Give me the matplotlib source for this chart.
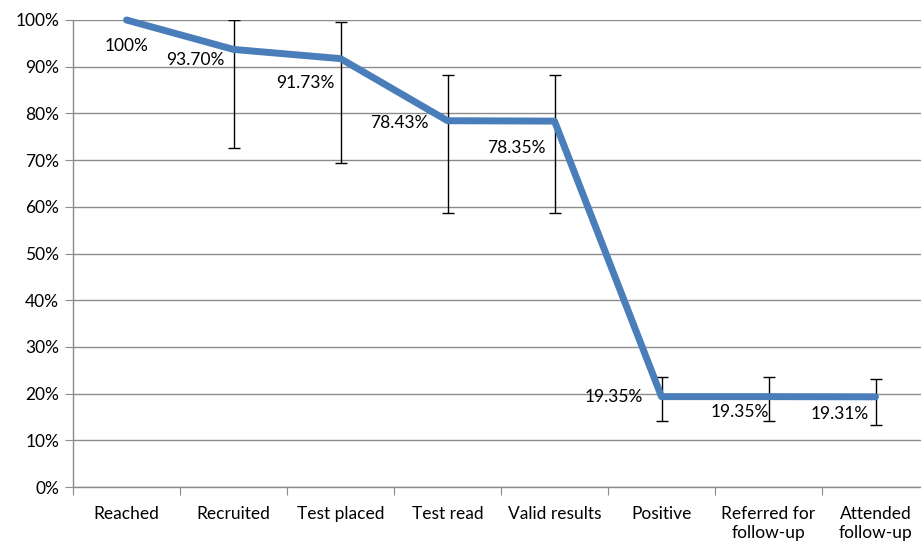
import matplotlib
matplotlib.use("Agg")
import matplotlib.pyplot as plt
import numpy as np

categories = ["Reached", "Recruited", "Test placed", "Test read", "Valid results",
              "Positive", "Referred for\nfollow-up", "Attended\nfollow-up"]
values = [100.0, 93.70, 91.73, 78.43, 78.35, 19.35, 19.35, 19.31]
labels = ["100%", "93.70%", "91.73%", "78.43%", "78.35%", "19.35%", "19.35%", "19.31%"]
err_low = [100.0, 72.6, 69.4, 58.7, 58.7, 14.1, 14.1, 13.3]
err_high = [100.0, 100.0, 99.6, 88.2, 88.2, 23.6, 23.6, 23.1]
# label offsets in pixels (dx, dy)
label_offsets = [(0, -26), (-38, -11), (-35, -24), (-48, -2), (-38, -27), (-48, 0), (-29, -15), (-36, -17)]

plt.rcParams['font.family'] = ['Lato', 'DejaVu Sans']
FS = 12.5

fig = plt.figure(figsize=(9.21, 5.51), dpi=100)
ax = fig.add_axes([73/921, 64/551, (929-73)/921, 467/551])

x = np.arange(len(categories))
v = np.array(values)
lo = v - np.array(err_low)
hi = np.array(err_high) - v

ax.errorbar(x[1:], v[1:], yerr=[lo[1:], hi[1:]], fmt='none', ecolor='black',
            elinewidth=1.0, capsize=4, capthick=1.0, zorder=3)
ax.plot(x, v, color='#4A7EBB', lw=5, solid_capstyle='round', solid_joinstyle='round',
        zorder=4, clip_on=False)

for xi, vi, lab, (dx, dy) in zip(x, v, labels, label_offsets):
    ax.annotate(lab, (xi, vi), xytext=(dx, dy), textcoords='offset pixels',
                ha='center', va='center', fontsize=FS, color='black', zorder=5)

ax.set_xlim(-0.5, len(categories) - 0.5)
ax.set_ylim(0, 100)
ax.set_yticks(np.arange(0, 101, 10))
ax.set_yticklabels([f"{t}%" for t in range(0, 101, 10)], fontsize=FS)
ax.yaxis.grid(True, color='#8C8C8C', lw=1.0)
ax.set_axisbelow(True)

ax.set_xticks(np.arange(-0.5, len(categories), 1))
ax.set_xticklabels([])
ax.set_xticks(x, minor=True)
ax.set_xticklabels(categories, minor=True, fontsize=FS)
ax.tick_params(axis='x', which='major', length=6, color='#8C8C8C', direction='out')
ax.tick_params(axis='x', which='minor', length=0, pad=14)
ax.tick_params(axis='y', length=6, color='#8C8C8C', pad=4)

for s in ['top', 'right']:
    ax.spines[s].set_visible(False)
for s in ['left', 'bottom']:
    ax.spines[s].set_color('#8C8C8C')
    ax.spines[s].set_linewidth(1.0)

fig.savefig("out.png", dpi=100)
